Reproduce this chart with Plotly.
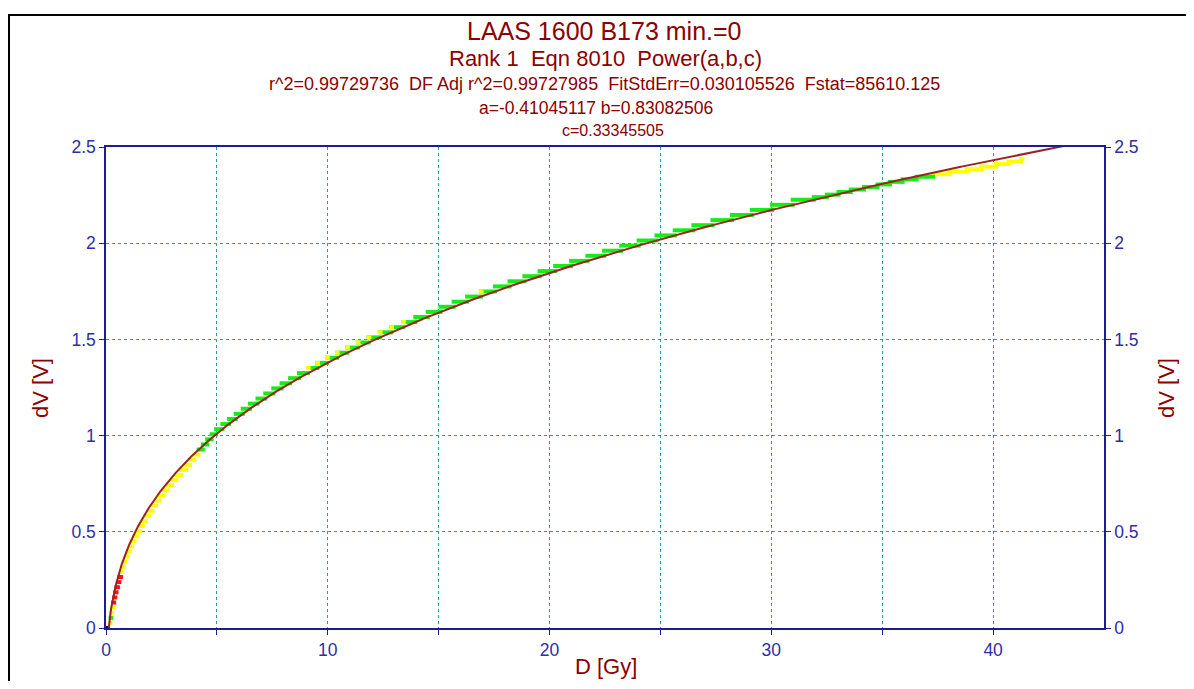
import numpy as np
import plotly.graph_objects as go

# ---- fit parameters (shown in the chart header) ----
A_FIT = -0.41045117
B_FIT = 0.83082506
C_FIT = 0.33345505

# ---- measured data: quantised dV steps (level) and the dose where each step begins/ends ----
dv_levels = [0.0265, 0.053, 0.0795, 0.106, 0.1325, 0.159, 0.1855, 0.212, 0.2385, 0.265,
             0.2915, 0.318, 0.3445, 0.371, 0.3975, 0.424, 0.4505, 0.477, 0.5035, 0.53,
             0.5565, 0.583, 0.6095, 0.636, 0.6625, 0.689, 0.7155, 0.742, 0.7685, 0.795,
             0.8215, 0.848, 0.8745, 0.901, 0.9275, 0.954, 0.9805, 1.007, 1.0335, 1.06,
             1.0865, 1.113, 1.1395, 1.166, 1.1925, 1.219, 1.2455, 1.272, 1.2985, 1.325,
             1.3515, 1.378, 1.4045, 1.431, 1.4575, 1.484, 1.5105, 1.537, 1.5635, 1.59,
             1.6165, 1.643, 1.6695, 1.696, 1.7225, 1.749, 1.7755, 1.802, 1.8285, 1.855,
             1.8815, 1.908, 1.9345, 1.961, 1.9875, 2.014, 2.0405, 2.067, 2.0935, 2.12,
             2.1465, 2.173, 2.1995, 2.226,
             2.2393, 2.2525, 2.2658, 2.279, 2.2923, 2.3055, 2.3188, 2.332, 2.3453, 2.3585,
             2.3718, 2.385, 2.3983, 2.4115, 2.4248, 2.438]

dose_edges = [0.174, 0.205, 0.240, 0.279, 0.322, 0.369, 0.421, 0.477, 0.537, 0.603,
              0.674, 0.720, 0.799, 0.885, 0.976, 1.073, 1.176, 1.286, 1.403, 1.526,
              1.656, 1.794, 1.939, 2.092, 2.252, 2.420, 2.597, 2.782, 2.976, 3.178,
              3.389, 3.610, 3.793, 3.982, 4.176, 4.366, 4.561, 4.761, 4.966, 5.250,
              5.544, 5.849, 6.165, 6.493, 6.831, 7.182, 7.544, 7.918, 8.300, 8.700,
              9.107, 9.530, 9.967, 10.416, 10.879, 11.355, 11.845, 12.349, 12.866, 13.399,
              13.945, 14.507, 15.083, 15.674, 16.281, 16.904, 17.541, 18.195, 18.865, 19.550,
              20.253, 20.971, 21.707, 22.460, 23.230, 24.017, 24.822, 25.645, 26.485, 27.344,
              28.221, 29.117, 30.031, 30.965, 31.913,
              32.50, 33.03, 33.58, 34.18, 34.79, 35.35, 35.92, 36.55, 37.29, 38.04,
              38.81, 39.47, 40.13, 40.70, 41.27, 41.32]

# residual class of each step, run-length coded: g = green, y = yellow, r = red
color_runs = [("y", 1), ("g", 1), ("y", 2), ("r", 6), ("y", 24), ("g", 59), ("y", 7)]
# steps whose first points are drawn yellow
yellow_tip_steps = [50, 51, 52, 53, 54, 55, 56, 57, 58, 59, 65]
tip_length = 0.12
origin_d = [0.09]
origin_dv = [0.0]

x_ticks = [0, 10, 20, 30, 40]
x_minor = [5, 15, 25, 35]
y_ticks = [0, 0.5, 1, 1.5, 2, 2.5]
X_RANGE = [0, 45]
Y_RANGE = [0, 2.5]

title_lines = ["LAAS 1600 B173 min.=0",
               "Rank 1  Eqn 8010  Power(a,b,c)",
               "r^2=0.99729736  DF Adj r^2=0.99727985  FitStdErr=0.030105526  Fstat=85610.125",
               "a=-0.41045117 b=0.83082506",
               "c=0.33345505"]

# ---- layout geometry (page pixels; the page body has an 8px margin) ----
OFF = 8
W, H = 1194 - 2 * OFF, 689 - 2 * OFF
PLOT_L, PLOT_R, PLOT_T, PLOT_B = 106, 1104, 147, 628   # page pixels of plot area
ML = PLOT_L - OFF
MT = PLOT_T - OFF
PW = PLOT_R - PLOT_L
PH = PLOT_B - PLOT_T
MR = W - ML - PW
MB = H - MT - PH

def px_x(p):
    return (p - PLOT_L) / PW
def px_y(p):
    return (PLOT_B - p) / PH

FONT = "Liberation Sans, Arial, sans-serif"
DARKRED = "#8b0000"
NAVY = "#1c1c96"
TICKBLUE = "#2e2ea6"
GRID = "#2a9a9a"
COLORS = {"g": "#14ee14", "y": "#ffff00", "r": "#ff1010"}

ext = 2.0 * (X_RANGE[1] - X_RANGE[0]) / PW   # half width of a data marker in Gy

codes = []
for c, n in color_runs:
    codes += [c] * n
nbar = min(len(dv_levels), len(dose_edges) - 1, len(codes))

seg = {"g": ([], []), "y": ([], []), "r": ([], [])}
for i in range(nbar):
    xs, ys = seg[codes[i]]
    xs += [dose_edges[i] - ext, dose_edges[i + 1] + ext, None]
    ys += [dv_levels[i], dv_levels[i], None]

tipx, tipy = [], []
for i in yellow_tip_steps:
    if i < nbar:
        tipx += [dose_edges[i] - ext, dose_edges[i] + tip_length, None]
        tipy += [dv_levels[i], dv_levels[i], None]

fig = go.Figure()
for c in ["r", "y", "g"]:
    xs, ys = seg[c]
    fig.add_trace(go.Scatter(x=xs, y=ys, mode="lines",
                             line=dict(color=COLORS[c], width=4),
                             hoverinfo="skip"))
fig.add_trace(go.Scatter(x=tipx, y=tipy, mode="lines",
                         line=dict(color=COLORS["y"], width=4), hoverinfo="skip"))
fig.add_trace(go.Scatter(x=origin_d, y=origin_dv, mode="markers",
                         marker=dict(color="black", size=4, symbol="square")))

# fitted curve y = a + b*x^c
xf = np.linspace(0.0, X_RANGE[1], 1500)
yf = A_FIT + B_FIT * np.power(xf, C_FIT)
fig.add_trace(go.Scatter(x=xf, y=yf, mode="lines",
                         line=dict(color="#9a2323", width=2), hoverinfo="skip"))
# invisible trace to carry the right axis
fig.add_trace(go.Scatter(x=[X_RANGE[0]], y=[Y_RANGE[0]], yaxis="y2", mode="markers",
                         marker=dict(opacity=0), hoverinfo="skip"))

axis_common = dict(showline=True, linecolor=NAVY, linewidth=1.5, ticks="outside",
                   ticklen=5, tickcolor=NAVY, tickwidth=1,
                   tickfont=dict(family=FONT, size=17.5, color=TICKBLUE),
                   zeroline=False)

fig.update_layout(
    width=W, height=H, autosize=False,
    margin=dict(l=ML, r=MR, t=MT, b=MB, autoexpand=False),
    paper_bgcolor="white", plot_bgcolor="white", showlegend=False,
    xaxis=dict(range=X_RANGE, tickmode="array", tickvals=x_ticks, mirror=True,
               showgrid=True, gridcolor=GRID, griddash="dot", gridwidth=1,
               minor=dict(tickmode="array", tickvals=x_minor, ticks="outside", ticklen=5,
                          tickcolor=NAVY, showgrid=True, gridcolor=GRID, griddash="dot",
                          gridwidth=1),
               **axis_common),
    yaxis=dict(range=Y_RANGE, tickmode="array", tickvals=y_ticks, mirror=True,
               showgrid=True, gridcolor=GRID, griddash="dot", gridwidth=1,
               **axis_common),
    yaxis2=dict(range=Y_RANGE, tickmode="array", tickvals=y_ticks, overlaying="y",
                side="right", showgrid=False, **axis_common),
)

title_y = [31, 58, 84, 108, 130]
title_x = [604, 605, 604, 596, 613]
title_size = [25, 22, 18, 17.5, 16]
ann = []
for t, xx, yy, sz in zip(title_lines, title_x, title_y, title_size):
    ann.append(dict(text=t, x=px_x(xx), y=px_y(yy), xref="paper", yref="paper",
                    xanchor="center", yanchor="middle", showarrow=False,
                    font=dict(family=FONT, size=sz, color=DARKRED)))
ann.append(dict(text="dV [V]", x=px_x(40), y=px_y(388), xref="paper", yref="paper",
                textangle=-90, showarrow=False, xanchor="center", yanchor="middle",
                font=dict(family=FONT, size=22, color=DARKRED)))
ann.append(dict(text="dV [V]", x=px_x(1166), y=px_y(388), xref="paper", yref="paper",
                textangle=-90, showarrow=False, xanchor="center", yanchor="middle",
                font=dict(family=FONT, size=22, color=DARKRED)))
ann.append(dict(text="D [Gy]", x=px_x(606), y=px_y(666), xref="paper", yref="paper",
                showarrow=False, xanchor="center", yanchor="middle",
                font=dict(family=FONT, size=22, color=DARKRED)))
fig.update_layout(annotations=ann)

# outer frame of the picture (left and top edges are visible in the window)
fig.add_shape(type="rect", xref="paper", yref="paper",
              x0=px_x(OFF + 1), x1=px_x(1194 + 40), y0=px_y(689 + 40), y1=px_y(15),
              line=dict(color="black", width=2), fillcolor="rgba(0,0,0,0)", layer="above")

fig.write_html("out.html")
